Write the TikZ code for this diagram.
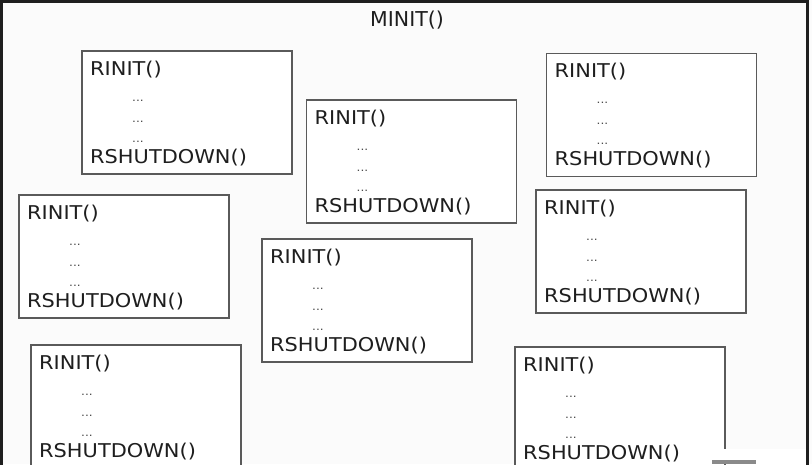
\documentclass[tikz,border=0pt]{standalone}
\usepackage{fontspec}
\setmainfont{DejaVu Sans}
\newfontfamily\boxfont[FakeStretch=1.1]{DejaVu Sans}
\usetikzlibrary{calc}
\definecolor{ink}{HTML}{1E1E1E}
\definecolor{boxline}{HTML}{5A5A5A}
\definecolor{bg}{HTML}{FBFBFB}
\definecolor{bar}{HTML}{8A8A8A}
\tikzset{
  rbox/.style={draw=boxline, line width=1.3pt, fill=white, rectangle, anchor=north west,
    minimum width=210pt, minimum height=123pt, inner sep=0pt, outer sep=0pt},
  lbl/.style={anchor=base west, inner sep=0pt, text=ink, font=\boxfont\fontsize{19}{22}\selectfont},
  dotlbl/.style={anchor=base west, inner sep=0pt, text=ink!80, font=\boxfont\fontsize{11}{13}\selectfont},
  title/.style={anchor=base, inner sep=0pt, text=ink, font=\fontsize{20.5}{24}\selectfont},
  frame/.style={draw=ink, line width=2.6pt}
}
\newcommand\rinitbox[3]{%
  \node[rbox] (#1) at (#2,#3) {};
  \node[lbl] (#1-i) at ($(#1.north west)+(8,24)$) {RINIT()};
  \node[dotlbl] (#1-a) at ($(#1.north west)+(50,50)$) {...};
  \node[dotlbl] (#1-b) at ($(#1.north west)+(50,71)$) {...};
  \node[dotlbl] (#1-c) at ($(#1.north west)+(50,91)$) {...};
  \node[lbl] (#1-s) at ($(#1.north west)+(8,112)$) {RSHUTDOWN()};
}
\begin{document}
\begin{tikzpicture}[x=1pt,y=-1pt]
\useasboundingbox (0,0) rectangle (812,464);
\clip (0,0) rectangle (812,464);
\fill[bg] (0,0) rectangle (812,464);
\draw[frame] (1.5,1.5) rectangle (807.5,480);
\node[title] (minit) at (407,26.5) {MINIT()};
\rinitbox{b1}{82}{51}
\rinitbox{b2}{306.5}{100}
\rinitbox{b3}{546.5}{53.5}
\rinitbox{b4}{19}{195}
\rinitbox{b5}{262}{239}
\rinitbox{b6}{536}{190}
\rinitbox{b7}{31}{345}
\rinitbox{b8}{515}{347}
\fill[white] (712,449) rectangle (806,464);
\fill[bar] (712,460) rectangle (756,464);
\end{tikzpicture}
\end{document}
